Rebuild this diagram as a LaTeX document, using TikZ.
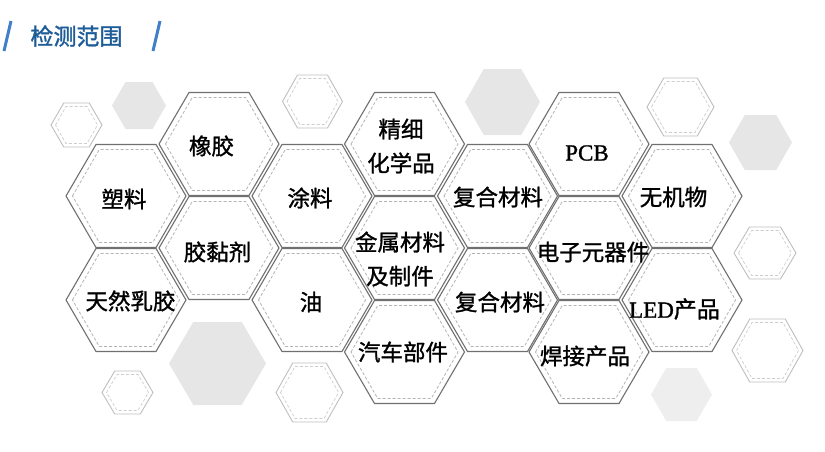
\documentclass[tikz,border=0pt]{standalone}
\usepackage{fontspec}
\setmainfont{Liberation Serif}
\newfontfamily\cjk{Noto Sans CJK SC}[FakeBold=1.2,AutoFakeBold=1.2]
\newfontfamily\cjkb{Noto Sans CJK SC}[FakeBold=1.5]
\newfontfamily\latb{Liberation Serif}[FakeBold=1.2]
\definecolor{hexline}{RGB}{112,112,112}
\definecolor{hexdash}{RGB}{180,180,180}
\definecolor{decoline}{RGB}{190,190,190}
\definecolor{decodash}{RGB}{205,205,205}
\definecolor{decofill}{RGB}{230,230,230}
\definecolor{decofillb}{RGB}{238,238,238}
\definecolor{titleblue}{RGB}{30,92,152}
\definecolor{slashblue}{RGB}{64,128,200}
\newcommand\hexat[5]{\path[#1] ({(#2)-(#4)},{#3}) -- ({(#2)-(#4)/2},{(#3)-(#5)}) -- ({(#2)+(#4)/2},{(#3)-(#5)}) -- ({(#2)+(#4)},{#3}) -- ({(#2)+(#4)/2},{(#3)+(#5)}) -- ({(#2)-(#4)/2},{(#3)+(#5)}) -- cycle;}
\newcommand\mainhex[2]{\hexat{mainout}{#1}{#2}{60}{51.5}\hexat{maindash}{#1}{#2}{53.5}{46.5}}
\newcommand\decohex[4]{\hexat{decoout}{#1}{#2}{#3}{#4}\hexat{decoin}{#1}{#2}{#3-4.5}{#4-3.5}}
\newcommand\fillhex[5]{\hexat{fill=#5}{#1}{#2}{#3}{#4}}
\tikzset{
  mainout/.style={draw=hexline,line width=1.1pt,fill=white},
  maindash/.style={draw=hexdash,line width=0.8pt,dash pattern=on 3pt off 2pt},
  decoout/.style={draw=decoline,line width=0.9pt},
  decoin/.style={draw=decodash,line width=0.7pt,dash pattern=on 3pt off 2pt},
  lbl/.style={font=\cjk\fontsize{22.5}{34}\selectfont,text=black,align=center,inner sep=0pt},
  latinlbl/.style={font=\latb\fontsize{23}{28}\selectfont,text=black,inner sep=0pt},
  slash/.style={line width=3pt,draw=slashblue}
}
\begin{document}
\begin{tikzpicture}[x=1pt,y=-1pt]
\useasboundingbox (0,0) rectangle (825,451);
% decorative hexagons
\fillhex{139}{105.5}{27}{23.5}{decofill}
\fillhex{502.5}{102}{37.5}{33}{decofill}
\fillhex{760.5}{142.5}{31.5}{27.5}{decofill}
\fillhex{217.5}{363.5}{48.5}{41.5}{decofill}
\fillhex{681.5}{394.5}{30.5}{26.5}{decofillb}
\decohex{76.5}{125}{25.5}{22}
\decohex{312.5}{101.5}{30}{26.5}
\decohex{680.5}{107}{33.5}{29}
\decohex{765}{253}{31}{26}
\decohex{767.5}{350.5}{35.5}{31.5}
\decohex{127.5}{392.5}{25.5}{21.5}
\decohex{309.5}{392.5}{33.5}{29.5}
% main hexagons
\mainhex{126}{196}
\mainhex{126}{300}
\mainhex{219}{144}
\mainhex{219}{248}
\mainhex{312}{196}
\mainhex{312}{300}
\mainhex{404.5}{144}
\mainhex{404.5}{248}
\mainhex{404.5}{352}
\mainhex{497.5}{196}
\mainhex{497.5}{300}
\mainhex{589}{144}
\mainhex{589}{248}
\mainhex{589}{352}
\mainhex{682}{196}
\mainhex{682}{300}
% labels
\node[lbl] (sl) at (124,199) {塑料};
\node[lbl] (trj) at (130.5,301) {天然乳胶};
\node[lbl] (xj) at (211.5,146) {橡胶};
\node[lbl] (jnj) at (217.5,252) {胶黏剂};
\node[lbl] (tl) at (310,198) {涂料};
\node[lbl] (you) at (311,302) {油};
\node[lbl] (jx) at (401,146) {精细\\化学品};
\node[lbl] (js) at (400,259) {金属材料\\及制件};
\node[lbl] (qc) at (403,352) {汽车部件};
\node[lbl] (fh1) at (498,197) {复合材料};
\node[lbl] (fh2) at (500,302) {复合材料};
\node[latinlbl] (pcb) at (587,153) {PCB};
\node[lbl] (dz) at (593,252) {电子元器件};
\node[lbl] (hj) at (585,356) {焊接产品};
\node[lbl] (wj) at (673.5,197) {无机物};
\node[inner sep=0pt] (led) at (674.5,309) {\latb\fontsize{23}{28}\selectfont LED\cjk 产品};
% title
\node[font=\cjkb\fontsize{23}{27}\selectfont,text=titleblue,inner sep=0pt] (title) at (76.5,36) {检测范围};
\coordinate (s1a) at (11,21);
\coordinate (s1b) at (4,51);
\coordinate (s2a) at (160,21);
\coordinate (s2b) at (153,51);
\draw[slash] (s1a) -- (s1b);
\draw[slash] (s2a) -- (s2b);
\end{tikzpicture}
\end{document}
